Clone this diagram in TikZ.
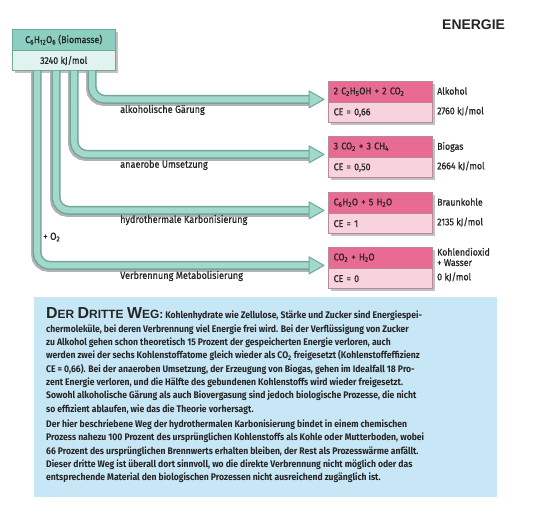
\documentclass[tikz,border=0pt]{standalone}
\usepackage{fontspec}
\setmainfont{Fira Sans}[FakeStretch=0.9]
\newfontfamily\labfont{Fira Sans}[FakeStretch=0.9, FakeBold=0.8]
\newfontfamily\headfont{Liberation Sans}
\usetikzlibrary{shadows}

\definecolor{tealhd}{HTML}{8CCFC0}
\definecolor{teallo}{HTML}{E0F3EF}
\definecolor{tealrim}{HTML}{6FA79A}
\definecolor{pipefill}{HTML}{A2D9CB}
\definecolor{pinkhd}{HTML}{E96A92}
\definecolor{pinklo}{HTML}{F8D3DE}
\definecolor{pinkrim}{HTML}{B88A98}
\definecolor{infobg}{HTML}{C8E7F6}
\definecolor{ink}{HTML}{262626}

\begin{document}
\begin{tikzpicture}[x=1bp, y=-1bp,
    every node/.style={text=ink},
    boxshadow/.style={drop shadow={shadow xshift=2.5bp, shadow yshift=-2.5bp, fill=gray!70, opacity=0.7}},
    bioHead/.style={boxshadow, draw=tealrim, fill=tealhd, minimum width=103bp, minimum height=21bp, inner sep=0pt, font=\labfont\fontsize{9.8}{11}\selectfont},
    bioLow/.style={boxshadow, draw=tealrim, fill=teallo, minimum width=103bp, minimum height=20bp, inner sep=0pt, font=\labfont\fontsize{9.8}{11}\selectfont},
    prodHead/.style={boxshadow, draw=pinkrim, fill=pinkhd, text width=93bp, align=left, inner xsep=5.5bp, inner ysep=0pt, minimum height=21bp, font=\labfont\fontsize{9.8}{11}\selectfont},
    prodLow/.style={boxshadow, draw=pinkrim, fill=pinklo, text width=93bp, align=left, inner xsep=5.5bp, inner ysep=0pt, minimum height=20bp, font=\labfont\fontsize{9.8}{11}\selectfont},
    sideLabel/.style={anchor=west, inner sep=0pt, font=\labfont\fontsize{9.8}{10.5}\selectfont, align=left},
    pipeLabel/.style={anchor=west, inner sep=0pt, font=\labfont\fontsize{10.2}{11}\selectfont},
    pipeShade/.style={line width=9bp, gray!60, rounded corners=13bp},
    pipeRim/.style={line width=9bp, tealrim, rounded corners=13bp},
    pipeCore/.style={line width=6bp, pipefill, rounded corners=13bp},
    pipeTip/.style={fill=pipefill, draw=tealrim, line width=1bp, line join=round}]

\useasboundingbox (0,0) rectangle (540,514);

% ── Title ──
\node[font=\headfont\bfseries\fontsize{14}{16}\selectfont, anchor=west, inner sep=0pt] (title) at (442,25) {ENERGIE};

% ── Biomass source ──
\node[bioHead, anchor=north west] (bio) at (12,29) {C\textsubscript{6}H\textsubscript{12}O\textsubscript{6} (Biomasse)};
\node[bioLow, anchor=north] (biokj) at (bio.south) {3240 kJ/mol};

% ── Products ──
% Alkohol
\node[prodHead, anchor=north west] (alk) at (328,81) {2 C\textsubscript{2}H\textsubscript{5}OH + 2 CO\textsubscript{2}};
\node[prodLow, anchor=north] (alkce) at (alk.south) {CE = 0,66};
\node[sideLabel] (alkname) at (437,91) {Alkohol};
\node[sideLabel] (alkkj) at (437,111) {2760 kJ/mol};

% Biogas
\node[prodHead, anchor=north west] (gas) at (328,136) {3 CO\textsubscript{2} + 3 CH\textsubscript{4}};
\node[prodLow, anchor=north] (gasce) at (gas.south) {CE = 0,50};
\node[sideLabel] (gasname) at (437,147) {Biogas};
\node[sideLabel] (gaskj) at (437,166) {2664 kJ/mol};

% Braunkohle
\node[prodHead, anchor=north west] (kohle) at (328,192) {C\textsubscript{6}H\textsubscript{2}O + 5 H\textsubscript{2}O};
\node[prodLow, anchor=north] (kohlece) at (kohle.south) {CE = 1};
\node[sideLabel] (kohlename) at (437,202) {Braunkohle};
\node[sideLabel] (kohlekj) at (437,222) {2135 kJ/mol};

% Kohlendioxid + Wasser
\node[prodHead, anchor=north west] (oxid) at (328,247) {CO\textsubscript{2} + H\textsubscript{2}O};
\node[prodLow, anchor=north] (oxidce) at (oxid.south) {CE = 0};
\node[sideLabel] (oxidname) at (437,257) {Kohlendioxid\\+ Wasser};
\node[sideLabel] (oxidkj) at (437,277) {0 kJ/mol};

% ── Pipes from biomass to products ──
\foreach \dx/\tgt in {80/alk, 62/gas, 44/kohle, 25/oxid} {
    \coordinate (\tgt-tip) at ([xshift=-4bp, yshift=3bp]\tgt.south west);
    \coordinate (\tgt-top) at ([xshift=\dx bp]biokj.south west);
    \draw[pipeShade] ([shift={(-1.5,0)}]\tgt-top) |- ([shift={(-14,2)}]\tgt-tip);
    \draw[pipeRim] (\tgt-top) |- ([xshift=-14bp]\tgt-tip);
    \draw[pipeCore] (\tgt-top) |- ([xshift=-13bp]\tgt-tip);
    \draw[pipeTip] ([shift={(-15,-8.5)}]\tgt-tip) -- (\tgt-tip) -- ([shift={(-15,8.5)}]\tgt-tip) -- cycle;
}

% ── Process labels ──
\node[pipeLabel] (lalk) at (120,110) {alkoholische Gärung};
\node[pipeLabel] (lgas) at (120,165) {anaerobe Umsetzung};
\node[pipeLabel] (lkohle) at (120,220) {hydrothermale Karbonisierung};
\node[pipeLabel] (loxid) at (120,276) {Verbrennung Metabolisierung};
\node[pipeLabel] (oxygen) at (43,237) {+ O\textsubscript{2}};

% ── Info box ──
\fill[infobg] (34,297) rectangle (497,497);
\node[anchor=north west, inner sep=0pt, align=left, font=\bfseries\fontsize{9.6}{13.4}\selectfont] (info) at (46,307.5) {%
{\headfont\bfseries\fontsize{16}{13.4}\selectfont D\fontsize{12}{13.4}\selectfont ER \fontsize{16}{13.4}\selectfont D\fontsize{12}{13.4}\selectfont RITTE \fontsize{16}{13.4}\selectfont W\fontsize{12}{13.4}\selectfont EG:} Kohlenhydrate wie Zellulose, Stärke und Zucker sind Energiespei-\\
chermoleküle, bei deren Verbrennung viel Energie frei wird. Bei der Verflüssigung von Zucker\\
zu Alkohol gehen schon theoretisch 15 Prozent der gespeicherten Energie verloren, auch\\
werden zwei der sechs Kohlenstoffatome gleich wieder als CO\textsubscript{2} freigesetzt (Kohlenstoffeffizienz\\
CE = 0,66). Bei der anaeroben Umsetzung, der Erzeugung von Biogas, gehen im Idealfall 18 Pro-\\
zent Energie verloren, und die Hälfte des gebundenen Kohlenstoffs wird wieder freigesetzt.\\
Sowohl alkoholische Gärung als auch Biovergasung sind jedoch biologische Prozesse, die nicht\\
so effizient ablaufen, wie das die Theorie vorhersagt.\\[2bp]
Der hier beschriebene Weg der hydrothermalen Karbonisierung bindet in einem chemischen\\
Prozess nahezu 100 Prozent des ursprünglichen Kohlenstoffs als Kohle oder Mutterboden, wobei\\
66 Prozent des ursprünglichen Brennwerts erhalten bleiben, der Rest als Prozesswärme anfällt.\\
Dieser dritte Weg ist überall dort sinnvoll, wo die direkte Verbrennung nicht möglich oder das\\
entsprechende Material den biologischen Prozessen nicht ausreichend zugänglich ist.};

\end{tikzpicture}
\end{document}
